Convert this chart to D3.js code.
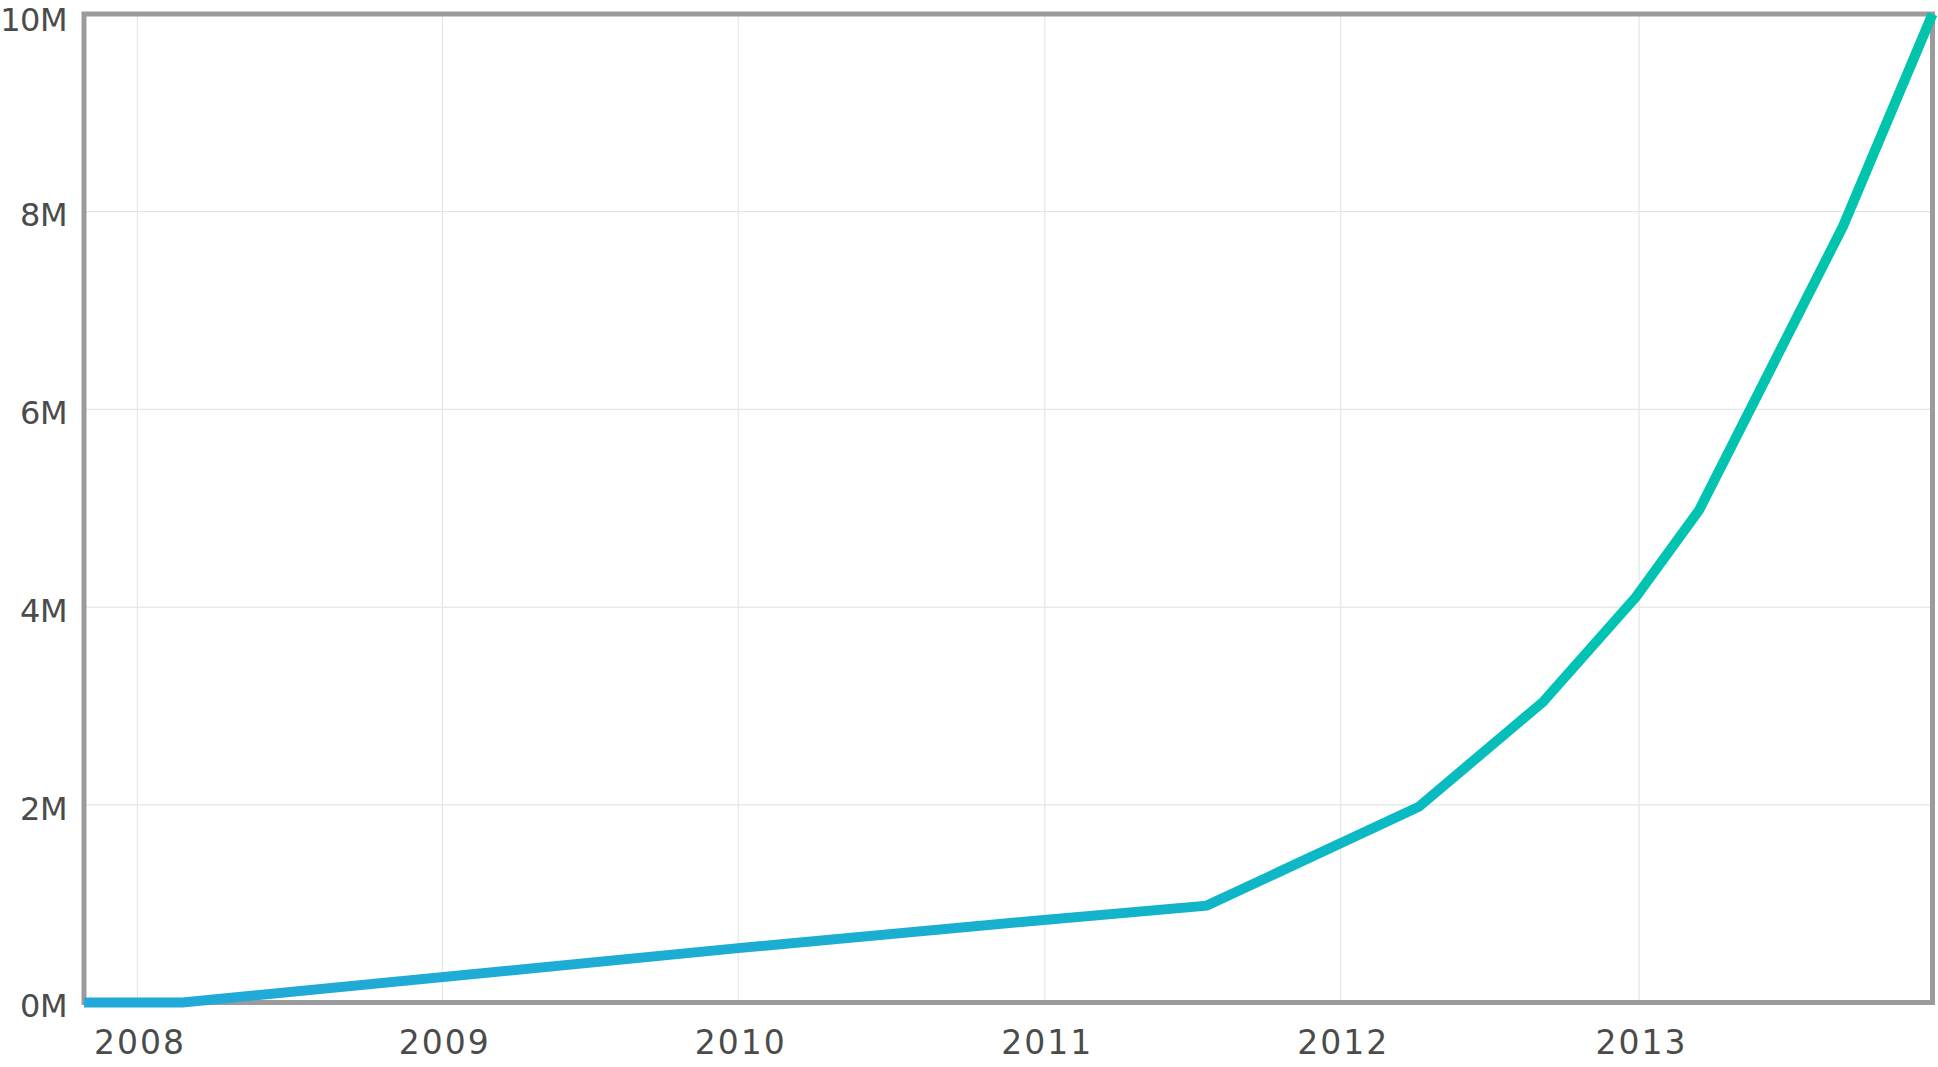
<!DOCTYPE html>
<html>
<head>
<meta charset="utf-8">
<script src="https://cdn.jsdelivr.net/npm/d3@7"></script>
<style>
  html, body { margin: 0; padding: 0; background: #ffffff; }
  svg { display: block; }
  .lbl { font-family: "DejaVu Sans", sans-serif; font-weight: 400; fill: #4b4b4b; }
  .yl { font-size: 32px; letter-spacing: -0.5px; }
  .xl { font-size: 33px; letter-spacing: 2px; }
</style>
</head>
<body>
<svg id="chart" width="1938" height="1067"></svg>
<script>
// ---- data (values in millions) ----
const dates  = ["2007-10-28","2008-02-25","2010-01-01","2011-01-01","2011-07-25","2012-04-08","2012-09-06","2012-12-28","2013-03-15","2013-09-06","2013-12-24"];
const values = [0, 0, 0.55, 0.83, 0.98, 1.98, 3.04, 4.10, 4.98, 7.85, 10];
const yTicks = [0, 2, 4, 6, 8, 10];
const yTickLabels = ["0M", "2M", "4M", "6M", "8M", "10M"];
const xTickDates  = ["2008-01-01","2009-01-06","2010-01-01","2011-01-09","2012-01-04","2013-01-01"];
const xTickLabels = ["2008", "2009", "2010", "2011", "2012", "2013"];

const parse = d3.timeParse("%Y-%m-%d");
const data = dates.map((d, i) => ({ date: parse(d), value: values[i] }));
const xTicks = xTickDates.map(parse);

const svg = d3.select("#chart");
const pL = 84, pR = 1932.5, pT = 14, pB = 1002.5;

const x = d3.scaleTime().domain(d3.extent(data, d => d.date)).range([pL, pR]);
const y = d3.scaleLinear().domain([0, 10]).range([pB, pT]);

// gridlines
const grid = svg.append("g");
grid.selectAll("line.v").data(xTicks).join("line")
  .attr("class", "v")
  .attr("x1", d => x(d)).attr("x2", d => x(d))
  .attr("y1", pT).attr("y2", pB)
  .attr("stroke", "#e5e5e5").attr("stroke-width", 1.2);
grid.selectAll("line.h").data(yTicks).join("line")
  .attr("class", "h")
  .attr("x1", pL).attr("x2", pR)
  .attr("y1", d => y(d)).attr("y2", d => y(d))
  .attr("stroke", "#e5e5e5").attr("stroke-width", 1.2);

// frame
svg.append("rect")
  .attr("x", pL).attr("y", pT)
  .attr("width", pR - pL).attr("height", pB - pT)
  .attr("fill", "none").attr("stroke", "#9b9b9b").attr("stroke-width", 5);

// axes labels
const yAxis = d3.axisLeft(y).tickValues(yTicks)
  .tickFormat((d, i) => yTickLabels[i]).tickSize(0).tickPadding(0);
const gy = svg.append("g").attr("transform", `translate(67,0)`).call(yAxis);
gy.select(".domain").remove();
gy.attr("font-family", null).attr("font-size", null);
gy.selectAll("text").attr("class", "lbl yl")
  .attr("dy", d => d === 10 ? "0.506em" : "0.444em");

const xAxis = d3.axisBottom(x).tickValues(xTicks)
  .tickFormat((d, i) => xTickLabels[i]).tickSize(0).tickPadding(0);
const gx = svg.append("g").attr("transform", `translate(2,1042)`).call(xAxis);
gx.select(".domain").remove();
gx.attr("font-family", null).attr("font-size", null);
gx.selectAll("text").attr("class", "lbl xl").attr("dy", "0.365em");

// gradient
const defs = svg.append("defs");
const grad = defs.append("linearGradient").attr("id", "lineGrad")
  .attr("gradientUnits", "userSpaceOnUse")
  .attr("x1", pL).attr("y1", 0).attr("x2", pR).attr("y2", 0);
grad.append("stop").attr("offset", "0%").attr("stop-color", "#22a9d9");
grad.append("stop").attr("offset", "45%").attr("stop-color", "#1aafd0");
grad.append("stop").attr("offset", "72%").attr("stop-color", "#0abac2");
grad.append("stop").attr("offset", "82%").attr("stop-color", "#00c3b3");
grad.append("stop").attr("offset", "100%").attr("stop-color", "#00c4ab");

// line
const line = d3.line().x(d => x(d.date)).y(d => y(d.value));
svg.append("path").datum(data)
  .attr("d", line)
  .attr("fill", "none")
  .attr("stroke", "url(#lineGrad)")
  .attr("stroke-width", 10)
  .attr("stroke-linejoin", "miter");
</script>
</body>
</html>
